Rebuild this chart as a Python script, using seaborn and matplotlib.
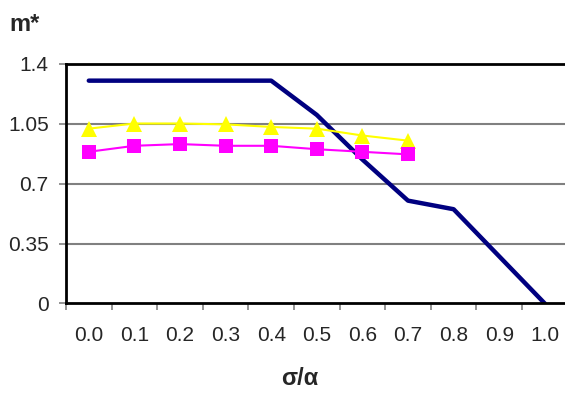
import pandas as pd
import numpy as np
import seaborn as sns
import matplotlib.pyplot as plt

# categorias do eixo x (sigma/alpha)
x_vals = [0.0, 0.1, 0.2, 0.3, 0.4, 0.5, 0.6, 0.7, 0.8, 0.9, 1.0]
x_labels = ['0.0', '0.1', '0.2', '0.3', '0.4', '0.5', '0.6', '0.7', '0.8', '0.9', '1.0']

# series
m_linha = [1.3, 1.3, 1.3, 1.3, 1.3, 1.10, 0.84, 0.60, 0.55, 0.275, 0.0]
m_triang = [1.02, 1.05, 1.05, 1.045, 1.03, 1.02, 0.98, 0.95]
m_quad = [0.885, 0.92, 0.93, 0.92, 0.92, 0.90, 0.885, 0.87]

y_ticks = [0, 0.35, 0.7, 1.05, 1.4]
y_labels = ['0', '0.35', '0.7', '1.05', '1.4']

df_linha = pd.DataFrame({'x': x_vals, 'm': m_linha})
df_tri = pd.DataFrame({'x': x_vals[:len(m_triang)], 'm': m_triang})
df_sq = pd.DataFrame({'x': x_vals[:len(m_quad)], 'm': m_quad})

sns.set_style('white')
plt.rcParams['font.family'] = ['Liberation Sans', 'DejaVu Sans']

fig = plt.figure(figsize=(5.65, 3.94), dpi=100)
ax = fig.add_axes([0.1168, 0.2297, 0.8878, 0.6091])

sns.lineplot(data=df_linha, x='x', y='m', color='#000080', linewidth=3.2, ax=ax)
sns.lineplot(data=df_tri, x='x', y='m', color='#FFFF00', linewidth=1.5,
             marker='^', markersize=11, markeredgewidth=0, ax=ax)
sns.lineplot(data=df_sq, x='x', y='m', color='#FF00FF', linewidth=1.5,
             marker='s', markersize=10, markeredgewidth=0, ax=ax)

ax.set_xlim(-0.05, 1.05)
ax.set_ylim(0, 1.4)

# grade horizontal cinza
for yv in y_ticks[1:-1]:
    ax.axhline(yv, color='#808080', linewidth=1.5, zorder=0)

ax.set_yticks(y_ticks)
ax.set_yticklabels(y_labels, fontsize=15)
ax.set_xticks([v + 0.05 for v in [-0.1] + x_vals])
ax.set_xticklabels([])
ax.set_xticks(x_vals, minor=True)
ax.set_xticklabels(x_labels, minor=True, fontsize=15)
ax.tick_params(axis='x', which='minor', length=0, pad=16.5)
ax.tick_params(axis='x', which='major', length=5, width=1.2, color='#808080', direction='out', bottom=True)
ax.tick_params(axis='y', length=5, width=1.2, color='#808080', direction='out', left=True, pad=7.5)

for s in ax.spines.values():
    s.set_color('black')
    s.set_linewidth(2)

ax.set_xlabel('')
ax.set_ylabel('')
fig.text(0.017, 0.922, 'm*', fontsize=17, fontweight='bold')
fig.text(0.531, 0.022, 'σ/α', fontsize=17, fontweight='bold', ha='center')

fig.savefig('out.png', dpi=100)
